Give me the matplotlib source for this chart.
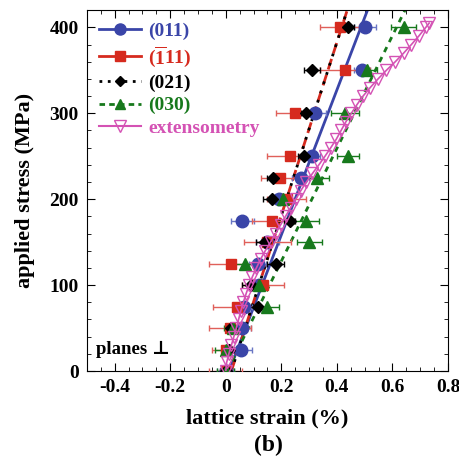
import matplotlib
matplotlib.use("Agg")
from matplotlib import pyplot as plt
from matplotlib.ticker import MultipleLocator, FuncFormatter

# data
stress = [0, 25, 50, 75, 100, 125, 150, 175, 200, 225, 250, 300, 350, 400]

s011 = [0.0, 0.055, 0.06, 0.065, 0.12, 0.115, 0.15, 0.06, 0.19, 0.27, 0.31, 0.32, 0.49, 0.50]
e011 = [0.03, 0.04, 0.03, 0.03, 0.03, 0.03, 0.04, 0.04, 0.03, 0.03, 0.03, 0.04, 0.03, 0.04]

s111 = [0.0, 0.0, 0.015, 0.04, 0.135, 0.02, 0.15, 0.165, 0.22, 0.195, 0.23, 0.25, 0.43, 0.41]
e111 = [0.06, 0.05, 0.075, 0.085, 0.075, 0.08, 0.085, 0.07, 0.07, 0.07, 0.08, 0.07, 0.09, 0.07]

s021 = [0.0, 0.01, 0.02, 0.115, 0.09, 0.18, 0.14, 0.23, 0.165, 0.17, 0.28, 0.29, 0.31, 0.44]
e021 = [0.02, 0.02, 0.02, 0.03, 0.03, 0.03, 0.03, 0.02, 0.03, 0.02, 0.02, 0.02, 0.03, 0.02]

s030 = [0.0, 0.0, 0.025, 0.15, 0.12, 0.07, 0.30, 0.29, 0.205, 0.33, 0.44, 0.43, 0.51, 0.64]
e030 = [0.03, 0.04, 0.03, 0.04, 0.03, 0.04, 0.045, 0.045, 0.03, 0.04, 0.04, 0.05, 0.035, 0.045]

# extensometry curve
ext_stress = [0, 10, 20, 30, 40, 50, 60, 70, 80, 90, 100, 110, 120, 130, 140, 150,
              160, 170, 180, 190, 200, 210, 220, 230, 240, 250, 260, 270, 280, 290,
              300, 310, 320, 330, 340, 350, 360, 370, 380, 390, 400, 405]
ext_strain = [0.0, 0.003, 0.011, 0.02, 0.029, 0.038, 0.046, 0.054, 0.063, 0.073,
              0.084, 0.096, 0.11, 0.125, 0.142, 0.161, 0.179, 0.197, 0.215, 0.233,
              0.252, 0.27, 0.29, 0.312, 0.335, 0.357, 0.378, 0.398, 0.415, 0.432,
              0.452, 0.472, 0.494, 0.52, 0.548, 0.578, 0.61, 0.64, 0.668, 0.695,
              0.72, 0.732]

# fitted lines (strain at 0 and 420 MPa)
fit_stress = [0, 420]
fit011 = [0.012, 0.51]
fit111 = [0.02, 0.437]
fit030 = [0.005, 0.645]

labels = ['(011)', r'$(\overline{1}11)$', '(021)', '(030)', 'extensometry']

blue = '#3a45a8'
red = '#d62a1e'
green = '#17791c'
pink = '#d452b4'

plt.rcParams['font.family'] = ['Liberation Serif', 'DejaVu Serif']
plt.rcParams['font.weight'] = 'bold'
plt.rcParams['mathtext.fontset'] = 'custom'
plt.rcParams['mathtext.rm'] = 'Liberation Serif:bold'
plt.rcParams['mathtext.bf'] = 'Liberation Serif:bold'
plt.rcParams['mathtext.default'] = 'bf'

fig = plt.figure(figsize=(4.6, 4.63), dpi=100)
ax = fig.add_axes([0.189, 0.1987, 0.785, 0.7793])

eb = dict(linestyle='none', capsize=2.5, elinewidth=1.0, capthick=1.0)

ax.plot(fit011, fit_stress, color=blue, lw=2, zorder=2)
ax.plot(fit111, fit_stress, color=red, lw=2, ls=(0, (4, 2)), zorder=2)
ax.plot(fit111, fit_stress, color='black', lw=2, ls=(0, (1, 2.5)), zorder=2)
ax.plot(fit030, fit_stress, color=green, lw=2, ls=(0, (2, 2)), zorder=2)

ax.errorbar(s011, stress, xerr=e011, fmt='o', color=blue, ms=9, ecolor='#6a76c4', zorder=3, **eb)
ax.errorbar(s111, stress, xerr=e111, fmt='s', color=red, ms=7.5, ecolor='#e0605a', zorder=3, **eb)
ax.errorbar(s021, stress, xerr=e021, fmt='D', color='black', ms=6.5, ecolor='black', zorder=3, **eb)
ax.errorbar(s030, stress, xerr=e030, fmt='^', color=green, ms=8, ecolor=green, zorder=3, **eb)
ax.plot(ext_strain, ext_stress, color=pink, lw=1.2, marker='v', ms=8, mfc='none',
        mec=pink, mew=1.0, zorder=4)

# legend handles
h1, = ax.plot([], [], color=blue, lw=2, marker='o', ms=8)
h2, = ax.plot([], [], color=red, lw=2, marker='s', ms=6.5)
h3, = ax.plot([], [], color='black', lw=2, ls=(0, (1, 2)), marker='D', ms=5.5)
h4, = ax.plot([], [], color=green, lw=2, ls=(0, (2, 1.5)), marker='^', ms=7)
h5, = ax.plot([], [], color=pink, lw=1.5, marker='v', ms=8, mfc='none', mec=pink)
leg = ax.legend([h1, h2, h3, h4, h5], labels,
                loc='upper left', frameon=False, fontsize=14, handlelength=2.2,
                borderaxespad=0.2, labelspacing=0.25, handletextpad=0.35,
                bbox_to_anchor=(0.0, 1.0))
for t, c in zip(leg.get_texts(), [blue, red, 'black', green, pink]):
    t.set_color(c)
    t.set_fontweight('bold')

ax.text(0.025, 0.035, 'planes \u22a5', transform=ax.transAxes, fontsize=13.5,
        fontweight='bold', ha='left', va='bottom')

ax.set_xlim(-0.5, 0.8)
ax.set_ylim(0, 420)
ax.xaxis.set_major_locator(MultipleLocator(0.2))
ax.xaxis.set_minor_locator(MultipleLocator(0.05))
ax.yaxis.set_major_locator(MultipleLocator(100))
ax.yaxis.set_minor_locator(MultipleLocator(20))
ax.xaxis.set_major_formatter(FuncFormatter(lambda v, p: '0' if abs(v) < 1e-9 else '%.1f' % v))
ax.tick_params(which='both', direction='in', top=True, right=True, labelsize=14)
ax.tick_params(which='major', length=6, pad=6)
ax.tick_params(which='minor', length=3)
for lab in ax.get_xticklabels() + ax.get_yticklabels():
    lab.set_fontweight('bold')

ax.set_xlabel('lattice strain (%)', fontsize=16, fontweight='bold', labelpad=9)
ax.set_ylabel('applied stress (MPa)', fontsize=16, fontweight='bold', labelpad=10)
fig.text(0.583, 0.038, '(b)', fontsize=17, fontweight='bold', ha='center', va='center')

fig.savefig('out.png', dpi=100)
